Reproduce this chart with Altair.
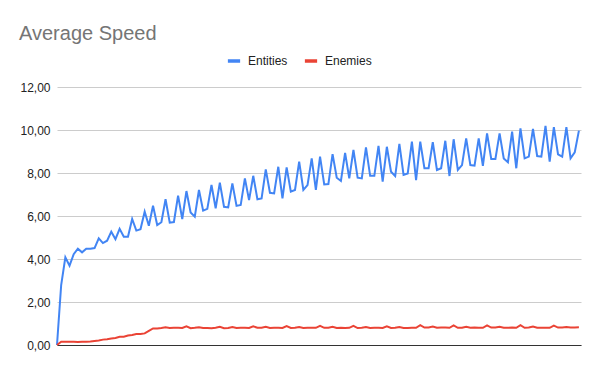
import altair as alt
import pandas as pd

entities = [0, 2.79, 4.08, 3.69, 4.22, 4.48, 4.31, 4.48, 4.48, 4.51,
            4.96, 4.74, 4.85, 5.27, 4.92, 5.40, 5.04, 5.04, 5.86, 5.32,
            5.38, 6.20, 5.55, 6.48, 5.58, 5.71, 6.78, 5.69, 5.72, 6.95,
            5.86, 7.16, 6.16, 5.97, 7.21, 6.25, 6.33, 7.44, 6.36, 7.55,
            6.43, 6.40, 7.52, 6.47, 6.51, 7.75, 6.74, 7.87, 6.78, 6.82,
            8.17, 7.08, 7.05, 8.29, 6.82, 8.26, 7.13, 7.21, 8.53, 7.21,
            7.44, 8.68, 7.21, 8.76, 7.47, 7.49, 8.88, 7.78, 7.63, 8.94,
            7.75, 9.07, 7.78, 7.75, 9.19, 7.87, 7.87, 9.26, 7.60, 9.22,
            8.06, 7.86, 9.35, 7.91, 7.98, 9.46, 7.67, 9.46, 8.22, 8.22,
            9.43, 8.14, 8.22, 9.50, 7.86, 9.57, 8.14, 8.37, 9.61, 8.37,
            8.34, 9.61, 8.33, 9.84, 8.65, 8.65, 9.84, 8.68, 8.50, 9.92,
            8.22, 10.08, 8.68, 8.76, 10.05, 8.79, 8.76, 10.19, 8.53, 10.13,
            8.87, 8.76, 10.13, 8.68, 8.96, 9.97]

enemies = [0, 0.15, 0.15, 0.15, 0.15, 0.14, 0.15, 0.15, 0.16, 0.19,
           0.21, 0.25, 0.27, 0.30, 0.33, 0.38, 0.38, 0.44, 0.47, 0.51,
           0.51, 0.54, 0.66, 0.77, 0.77, 0.79, 0.82, 0.79, 0.80, 0.80,
           0.79, 0.87, 0.78, 0.80, 0.83, 0.79, 0.79, 0.78, 0.80, 0.85,
           0.78, 0.79, 0.84, 0.79, 0.80, 0.80, 0.79, 0.87, 0.80, 0.80,
           0.85, 0.79, 0.80, 0.80, 0.79, 0.88, 0.79, 0.80, 0.84, 0.79,
           0.80, 0.80, 0.80, 0.89, 0.80, 0.80, 0.85, 0.79, 0.80, 0.79,
           0.80, 0.89, 0.79, 0.80, 0.84, 0.79, 0.80, 0.80, 0.79, 0.87,
           0.79, 0.80, 0.84, 0.79, 0.79, 0.80, 0.80, 0.92, 0.81, 0.81,
           0.86, 0.80, 0.81, 0.81, 0.80, 0.91, 0.80, 0.80, 0.85, 0.80,
           0.81, 0.80, 0.80, 0.91, 0.81, 0.81, 0.85, 0.80, 0.80, 0.81,
           0.80, 0.92, 0.80, 0.81, 0.86, 0.80, 0.80, 0.80, 0.80, 0.90,
           0.81, 0.81, 0.84, 0.81, 0.81, 0.82]

series_names = ["Entities", "Enemies"]
series_colors = ["#4285F4", "#EA4335"]

rows = []
for i, v in enumerate(entities):
    rows.append({"step": i, "value": v, "series": series_names[0]})
for i, v in enumerate(enemies):
    rows.append({"step": i, "value": v, "series": series_names[1]})
df = pd.DataFrame(rows)

FONT = "Liberation Sans"

chart = alt.Chart(df).mark_line(strokeWidth=2).encode(
    x=alt.X("step:Q", scale=alt.Scale(domain=[0, 125.5], nice=False, zero=False),
            axis=alt.Axis(title=None, labels=False, ticks=False, grid=False,
                          domain=True, domainColor="#333333", domainWidth=1)),
    y=alt.Y("value:Q", scale=alt.Scale(domain=[0, 12], nice=False),
            axis=alt.Axis(title=None, values=[0, 2, 4, 6, 8, 10, 12],
                          labelExpr="replace(format(datum.value, '.2f'), '.', ',')",
                          ticks=False, domain=False, gridColor="#cccccc",
                          labelFont=FONT, labelFontSize=12, labelColor="#222222",
                          labelPadding=7)),
    color=alt.Color("series:N",
                    scale=alt.Scale(domain=series_names, range=series_colors),
                    sort=series_names,
                    legend=alt.Legend(title=None, orient="none", direction="horizontal",
                                      legendX=169, legendY=-34,
                                      symbolType="stroke", symbolSize=150,
                                      symbolStrokeWidth=3.5,
                                      labelFont=FONT, labelFontSize=12,
                                      labelColor="#222222", columnPadding=9,
                                      labelOffset=6)),
).properties(
    width=524,
    height=258,
    title=alt.TitleParams("Average Speed", anchor="start", frame="group",
                          fontSize=20, font=FONT, fontWeight="normal",
                          color="#757575", dx=-38, offset=9),
    autosize=alt.AutoSizeParams(type="none"),
    padding={"left": 49, "top": 79, "right": 11, "bottom": 18},
).configure_view(stroke=None)

chart.save("out.html", embed_options={"renderer": "svg", "actions": False})
